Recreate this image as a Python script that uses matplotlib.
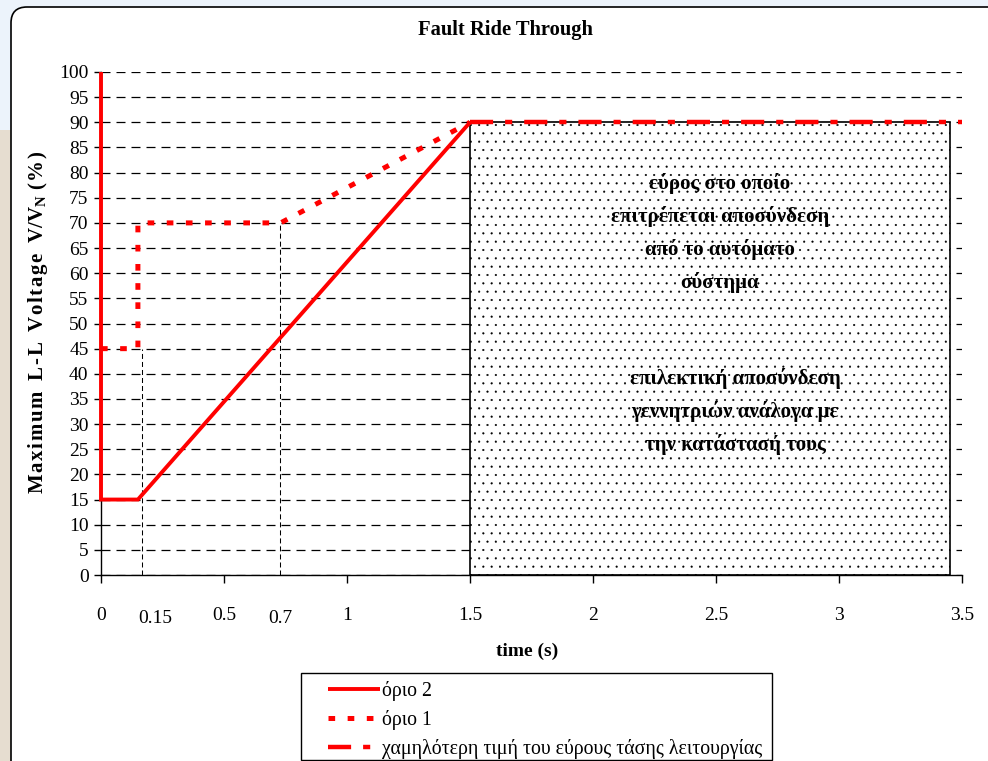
import matplotlib
matplotlib.use('Agg')
import matplotlib.pyplot as plt
from matplotlib.patches import Rectangle, FancyBboxPatch

plt.rcParams['font.family'] = ['Liberation Serif', 'DejaVu Serif']
plt.rcParams['mathtext.fontset'] = 'custom'
plt.rcParams['mathtext.rm'] = 'Liberation Serif'
plt.rcParams['mathtext.bf'] = 'Liberation Serif:bold'
plt.rcParams['hatch.linewidth'] = 0.3

# values
orio2_t = [0, 0, 0.15, 1.5]
orio2_v = [100, 15, 15, 90]
orio1_t = [0, 0.15, 0.15, 0.73, 1.5]
orio1_v = [45, 45, 70, 70, 90]
low_t = [1.5, 3.5]
low_v = [90, 90]
zone_t = [1.5, 3.45]
zone_v = [0, 90]
guide_t = [0.165, 0.727]
guide_v = [45, 70]

xticks = [0, 0.5, 1, 1.5, 2, 2.5, 3, 3.5]
xticklabels = ['0', '0.5', '1', '1.5', '2', '2.5', '3', '3.5']
extra_labels = ['0.15', '0.7']
extra_pos = [0.22, 0.73]
yticks = list(range(0, 101, 5))

legend_labels = ['όριο 2', 'όριο 1', 'χαμηλότερη τιμή του εύρους τάσης λειτουργίας']
zone_text1 = 'εύρος στο οποίο\nεπιτρέπεται αποσύνδεση\nαπό το αυτόματο\nσύστημα'
zone_text2 = 'επιλεκτική αποσύνδεση\nγεννητριών ανάλογα με\nτην κατάστασή τους'

W, H = 988, 761
fig = plt.figure(figsize=(W / 100, H / 100), dpi=100)
fig.patch.set_facecolor('#ecf3fb')

# page background bits: photo strip on the left and the rounded white card
fig.add_artist(Rectangle((0, 0), 12, 631, transform=None, facecolor='#e6ddd0',
                         edgecolor='none', zorder=-3))
fig.add_artist(FancyBboxPatch((11, -20), 1000, 774, boxstyle='round,pad=0,rounding_size=16',
                              transform=None, facecolor='white', edgecolor='black',
                              lw=1.2, zorder=-2))

ax = fig.add_axes([101 / W, 186 / H, 861 / W, 503 / H])
ax.set_facecolor('none')
ax.set_axisbelow(True)
ax.yaxis.grid(True, color='black', lw=0.9, linestyle=(0, (7.2, 4.8)))
ax.xaxis.grid(False)

ax.add_patch(Rectangle((zone_t[0], zone_v[0]), zone_t[1] - zone_t[0], zone_v[1] - zone_v[0],
                       facecolor='white', edgecolor='black', hatch='..', lw=1.2, zorder=2))

ax.vlines(guide_t, 0, guide_v, colors='black', lw=0.75, linestyles=[(0, (4.8, 2.9))], zorder=2.5)

l2, = ax.plot(orio2_t, orio2_v, color='red', lw=2.8, solid_capstyle='butt',
              solid_joinstyle='miter', zorder=4, clip_on=False)
l1, = ax.plot(orio1_t, orio1_v, color='red', lw=3.6, linestyle=(0, (1.33, 2.5)),
              dash_capstyle='butt', zorder=3, clip_on=False)
l3, = ax.plot(low_t, low_v, color='red', lw=3.2, linestyle=(0, (5.2, 2.7, 1.6, 2.7)),
              dash_capstyle='butt', zorder=3, clip_on=False)

ax.text(2.516, 68.0, zone_text1, ha='center', va='center', fontsize=15,
        fontweight='bold', linespacing=1.75, zorder=5)
ax.text(2.577, 32.6, zone_text2, ha='center', va='center', fontsize=15,
        fontweight='bold', linespacing=1.75, zorder=5)

ax.set_xlim(0, 3.5)
ax.set_ylim(0, 100)
ax.set_xticks(xticks, xticklabels)
ax.set_yticks(yticks)
ax.tick_params(axis='x', direction='out', length=6, width=1, pad=17, labelsize=14)
ax.tick_params(axis='y', direction='out', length=5, width=1, pad=4, labelsize=14)
for s in ['top', 'right']:
    ax.spines[s].set_visible(False)
for s in ['left', 'bottom']:
    ax.spines[s].set_linewidth(1)

for lab, x in zip(extra_labels, extra_pos):
    ax.text(x, -0.0855, lab, transform=ax.get_xaxis_transform(), ha='center',
            va='center', fontsize=14)

fig.text(505 / W, 1 - 30 / H, 'Fault Ride Through', ha='center', va='center',
         fontsize=14.8, fontweight='bold')
fig.text(527 / W, 1 - 651 / H, 'time (s)', ha='center', va='center',
         fontsize=14, fontweight='bold')
hs = '\u200a'
ylab = hs.join('Maximum') + '  ' + hs.join('L-L') + '  ' + hs.join('Voltage') + \
    '  V/V$_{\\mathbf{N}}$ ' + hs.join('(%)')
fig.text(38 / W, 1 - 322 / H, ylab, rotation=90, ha='center', va='center',
         fontsize=15, fontweight='bold')

fig.add_artist(Rectangle((301, 1), 471, 87, transform=None, fill=False,
                         edgecolor='black', lw=1))
fig.legend([l2, l1, l3], legend_labels, loc='upper left',
           bbox_to_anchor=(328 / W, (761 - 681) / H), frameon=False, borderpad=0,
           borderaxespad=0, handlelength=2.6, handletextpad=0.1, labelspacing=0.45,
           fontsize=14.3)

fig.savefig('out.png', dpi=100, facecolor=fig.get_facecolor())
